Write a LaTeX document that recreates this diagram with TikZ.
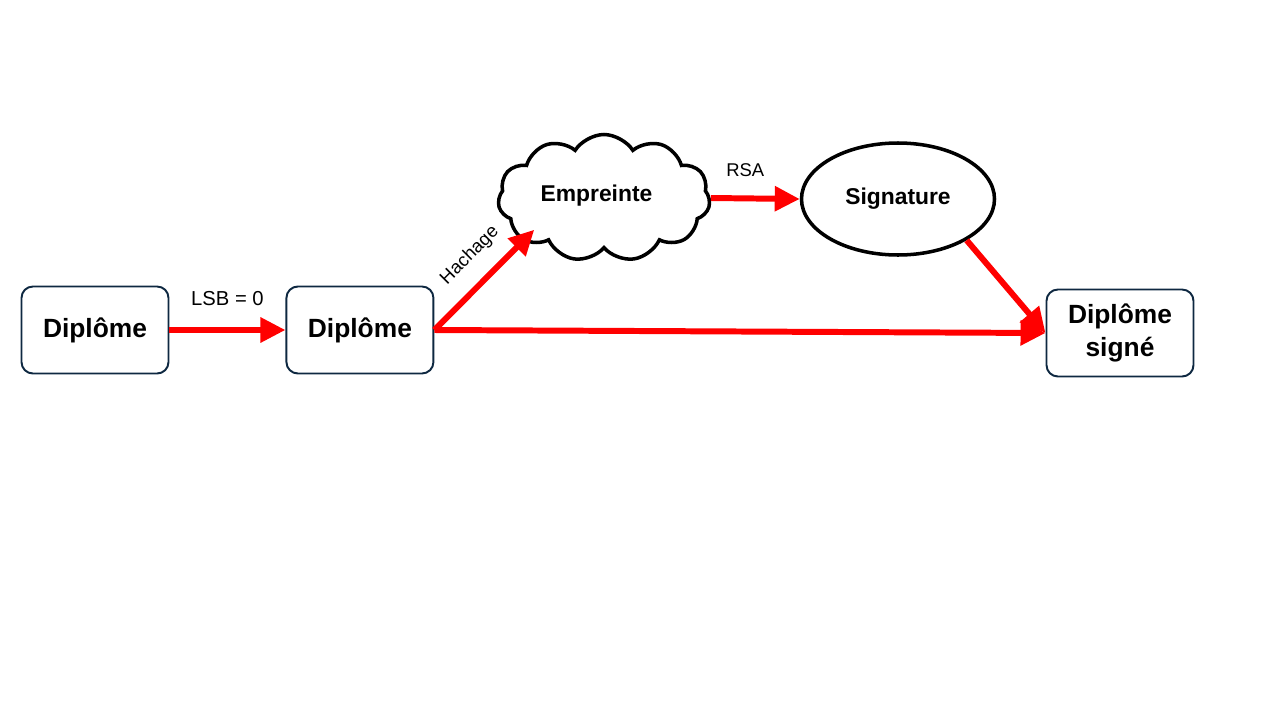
\documentclass[tikz,border=0pt]{standalone}
\usepackage{fontspec}
\setmainfont{Liberation Sans}
\usetikzlibrary{shapes.geometric, shapes.symbols, arrows.meta, positioning}
\definecolor{boxline}{RGB}{14, 40, 65}
\definecolor{flowred}{RGB}{255, 0, 0}

\begin{document}
\begin{tikzpicture}[
        node distance=2.32cm,
        flowarrow/.style={-{Triangle[length=0.5cm, width=0.48cm]}, line width=3.4pt, flowred},
        docbox/.style={rectangle, draw=boxline, line width=1.1pt, rounded corners=6.5pt, minimum width=2.94cm, minimum height=1.74cm, align=center, font=\fontsize{15}{19}\selectfont\bfseries},
        hashcloud/.style={cloud, draw, line width=2pt, cloud puffs=11, cloud puff arc=115, aspect=1.7, minimum width=4.24cm, minimum height=2.54cm, font=\fontsize{13}{16}\selectfont\bfseries},
        signoval/.style={ellipse, draw, line width=2pt, minimum width=3.86cm, minimum height=2.24cm, font=\fontsize{13}{16}\selectfont\bfseries},
        steplabel/.style={font=\fontsize{10.5}{13}\selectfont, text=black}
    ]
        \useasboundingbox (0,0) rectangle (25.6,-14.4);

        % Diplomas
        \node[docbox] (dip1) at (1.9,-6.6) {Diplôme};
        \node[docbox, right=of dip1] (dip2) {Diplôme};
        \node[docbox] (dip3) at (22.4,-6.66) {Diplôme\\signé};

        % Hash and signature
        \node[hashcloud] (emp) at (12.08,-3.96) {\hspace*{-0.3cm}\raisebox{0.2cm}{Empreinte}};
        \node[signoval] (sig) at (17.96,-3.98) {\raisebox{-0.05cm}{Signature}};

        % Arrows
        \draw[flowarrow] (dip1) -- node[steplabel, above=0.3cm, font=\fontsize{11.5}{14}\selectfont] {LSB = 0} (dip2);
        \draw[flowarrow, shorten >=-0.32cm] (dip2.east) -- node[steplabel, sloped, above=0.2cm, pos=0.62] {Hachage} (emp.-152);
        \draw[flowarrow] (emp.east) -- node[steplabel, above=0.25cm, xshift=-0.2cm] {RSA} (sig.west);
        \draw[flowarrow] (sig.-31) -- (dip3.west);
        \draw[flowarrow] (dip2.east) -- (dip3.west);
    \end{tikzpicture}
\end{document}
